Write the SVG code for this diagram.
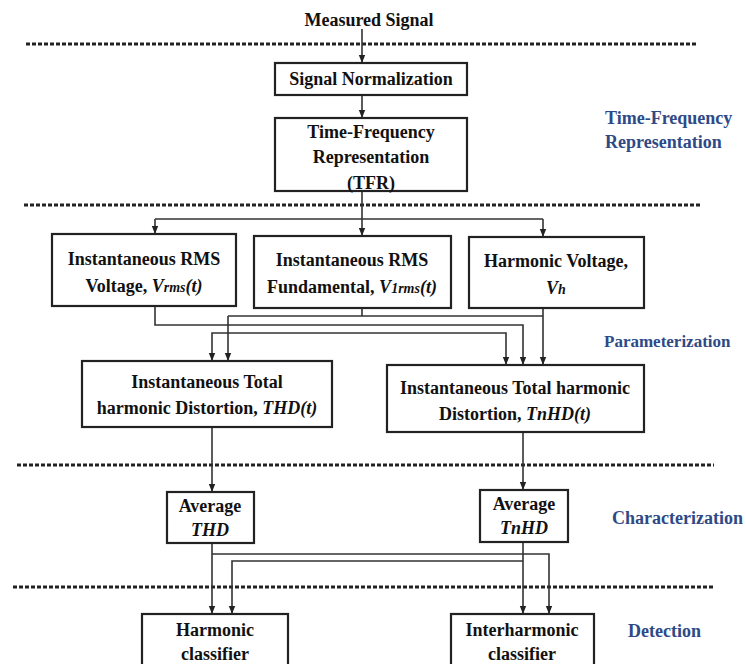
<svg xmlns="http://www.w3.org/2000/svg" width="746" height="664" viewBox="0 0 746 664">
<defs>
<marker id="arr" markerUnits="userSpaceOnUse" markerWidth="8" markerHeight="8" viewBox="0 0 8 8" refX="8" refY="4" orient="auto">
<path d="M0,0.8 L8,4 L0,7.2 Z" fill="#222"/>
</marker>
<style>
.t{font-family:"Liberation Serif","Times New Roman",serif;font-weight:bold;font-size:18px;fill:#111;text-anchor:middle}
.i{font-style:italic}
.s{font-size:14px}
.side{font-family:"Liberation Serif","Times New Roman",serif;font-weight:bold;font-size:18px;fill:#2E4A86}
.box{fill:#fff;stroke:#222;stroke-width:2.2}
.dash{stroke:#222;stroke-width:3;stroke-dasharray:4 2;fill:none}
.c{stroke:#333;stroke-width:1.6;fill:none}
.a{marker-end:url(#arr)}
</style>
</defs>
<rect width="746" height="664" fill="#fff"/>

<g id="separators">
<line class="dash" x1="26" y1="44" x2="698" y2="44"/>
<line class="dash" x1="24" y1="205" x2="700" y2="205"/>
<line class="dash" x1="17" y1="465" x2="714" y2="465"/>
<line class="dash" x1="13" y1="587" x2="714" y2="587"/>
</g>

<g id="connectors">
<line class="c a" x1="362" y1="29" x2="362" y2="63"/>
<line class="c a" x1="362" y1="95" x2="362" y2="118"/>
<polyline class="c" points="362,191 362,219"/>
<line class="c" x1="155" y1="219" x2="543" y2="219"/>
<line class="c a" x1="155" y1="219" x2="155" y2="234"/>
<line class="c a" x1="362" y1="219" x2="362" y2="236"/>
<line class="c a" x1="543" y1="219" x2="543" y2="237"/>
<polyline class="c a" points="155,306 155,325 523,325 523,365"/>
<polyline class="c" points="362,308 362,316"/>
<line class="c" x1="228" y1="316" x2="543" y2="316"/>
<polyline class="c a" points="228,316 228,361"/>
<line class="c a" x1="543" y1="308" x2="543" y2="365"/>
<polyline class="c" points="212,340 212,333 506,333 506,340"/>
<line class="c a" x1="212" y1="340" x2="212" y2="361"/>
<line class="c a" x1="506" y1="340" x2="506" y2="365"/>
<line class="c a" x1="212" y1="427" x2="212" y2="492"/>
<line class="c a" x1="523" y1="432" x2="523" y2="490"/>
<line class="c a" x1="212" y1="543" x2="212" y2="614"/>
<polyline class="c a" points="212,554 549,554 549,614"/>
<line class="c a" x1="523" y1="542" x2="523" y2="614"/>
<polyline class="c a" points="523,561 232,561 232,614"/>
</g>

<g id="measured-signal">
<text class="t" x="369" y="26">Measured Signal</text>
</g>

<g id="signal-normalization">
<rect class="box" x="275" y="63" width="192" height="32"/>
<text class="t" x="371" y="85">Signal Normalization</text>
</g>

<g id="tfr">
<rect class="box" x="275" y="118" width="192" height="73"/>
<text class="t" x="371" y="138">Time-Frequency</text>
<text class="t" x="371" y="163">Representation</text>
<text class="t" x="371" y="189">(TFR)</text>
</g>

<g id="vrms">
<rect class="box" x="52" y="234" width="184" height="72"/>
<text class="t" x="144" y="265">Instantaneous RMS</text>
<text class="t" x="144" y="292">Voltage, <tspan class="i">V<tspan class="s">rms</tspan>(t)</tspan></text>
</g>

<g id="v1rms">
<rect class="box" x="254" y="236" width="197" height="72"/>
<text class="t" x="352" y="266">Instantaneous RMS</text>
<text class="t" x="352" y="293">Fundamental, <tspan class="i">V<tspan class="s">1rms</tspan>(t)</tspan></text>
</g>

<g id="vh">
<rect class="box" x="469" y="237" width="175" height="71"/>
<text class="t" x="556" y="267">Harmonic Voltage,</text>
<text class="t i" x="556" y="294">V<tspan class="s">h</tspan></text>
</g>

<g id="thd">
<rect class="box" x="82" y="361" width="250" height="66"/>
<text class="t" x="207" y="388">Instantaneous Total</text>
<text class="t" x="207" y="414">harmonic Distortion, <tspan class="i">THD(t)</tspan></text>
</g>

<g id="tnhd">
<rect class="box" x="387" y="365" width="257" height="67"/>
<text class="t" x="515" y="394">Instantaneous Total harmonic</text>
<text class="t" x="515" y="420">Distortion, <tspan class="i">TnHD(t)</tspan></text>
</g>

<g id="avg-thd">
<rect class="box" x="167" y="492" width="87" height="51"/>
<text class="t" x="210" y="512">Average</text>
<text class="t i" x="210" y="536">THD</text>
</g>

<g id="avg-tnhd">
<rect class="box" x="480" y="490" width="88" height="52"/>
<text class="t" x="524" y="510">Average</text>
<text class="t i" x="524" y="534">TnHD</text>
</g>

<g id="harmonic-classifier">
<rect class="box" x="142" y="614" width="146" height="62"/>
<text class="t" x="215" y="636">Harmonic</text>
<text class="t" x="215" y="660">classifier</text>
</g>

<g id="interharmonic-classifier">
<rect class="box" x="451" y="614" width="143" height="62"/>
<text class="t" x="522" y="636">Interharmonic</text>
<text class="t" x="522" y="660">classifier</text>
</g>

<g id="stage-labels">
<text class="side" x="605" y="124">Time-Frequency</text>
<text class="side" x="605" y="148">Representation</text>
<text class="side" x="604" y="347" style="font-size:17px">Parameterization</text>
<text class="side" x="612" y="524">Characterization</text>
<text class="side" x="628" y="637">Detection</text>
</g>
</svg>
